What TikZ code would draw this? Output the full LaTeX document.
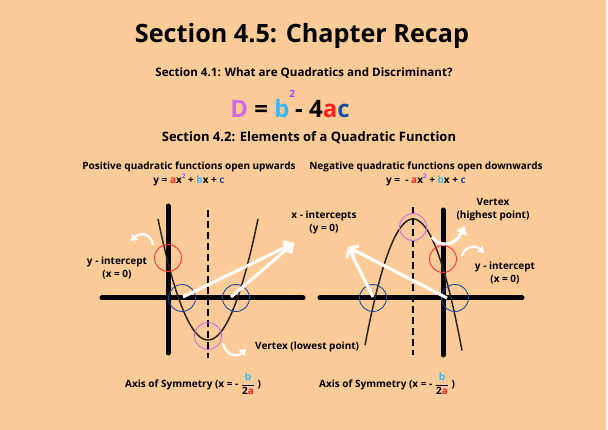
\documentclass[tikz,border=0pt]{standalone}
\usepackage{fontspec}
\usepackage{amsmath}
\setmainfont{Open Sans}
\usetikzlibrary{arrows.meta}
\definecolor{bg}{HTML}{FCCB98}
\definecolor{cred}{HTML}{FF1F1F}
\definecolor{clb}{HTML}{38B6FF}
\definecolor{cdb}{HTML}{1B4FA0}
\definecolor{cvi}{HTML}{CB6CE6}
\definecolor{csup}{HTML}{8C52FF}
\definecolor{ringred}{HTML}{FF3131}
\definecolor{ringblue}{HTML}{1E4A9A}
\definecolor{ringvi}{HTML}{CB6CE6}
\definecolor{curvec}{HTML}{2A2420}
\tikzset{
  axisline/.style={line width=5pt, line cap=round, black},
  symline/.style={line width=2.8pt, black, dash pattern=on 7pt off 4pt},
  curveline/.style={line width=1.5pt, curvec},
  ring/.style={circle, draw=#1, line width=0.9pt, minimum size=27pt, inner sep=0pt},
  whitearrow/.style={white, line width=3pt, -{Straight Barb[length=7pt,width=12pt,line width=3pt]}},
  bendarrow/.style={white, line width=2.2pt, -{Triangle[length=6pt,width=8pt]}},
  lbl/.style={font=\fontsize{10}{12}\selectfont\bfseries, align=center, inner sep=0pt},
}
\newcommand{\supsmall}[1]{\raisebox{0.9ex}{\fontsize{6.5}{7}\selectfont #1}}
\begin{document}
\begin{tikzpicture}[x=1pt,y=-1pt]
\useasboundingbox (0,0) rectangle (608,430);
\fill[bg] (0,0) rectangle (606,430);
\fill[white!85!bg] (606,0) rectangle (608,430);

% headings
\node[font=\fontsize{25.2}{30}\selectfont\bfseries, inner sep=0pt] (title) at (302,36) {Section 4.5: Chapter Recap};
\node[font=\fontsize{11.6}{14}\selectfont\bfseries, inner sep=0pt] (sub1) at (304,73) {Section 4.1: What are Quadratics and Discriminant?};
\node[font=\fontsize{24}{28}\selectfont\bfseries, inner sep=0pt] (disc) at (290,104) {\color{cvi}D \color{black}= \color{clb}b\raisebox{1.5ex}{\fontsize{10}{10}\selectfont\color{csup}2}\color{black}- 4\color{cred}a\color{cdb}c};
\node[font=\fontsize{13}{16}\selectfont\bfseries, inner sep=0pt] (sub2) at (309,138) {Section 4.2: Elements of a Quadratic Function};

\node[lbl] (pos) at (189,167) {Positive quadratic functions open upwards};
\node[lbl] (poseq) at (189,180) {y = \color{cred}a\color{black}x\supsmall{\color{csup}2} + \color{clb}b\color{black}x + \color{cdb}c};
\node[lbl] (neg) at (426,167) {Negative quadratic functions open downwards};
\node[lbl] (negeq) at (426,180) {y = \ - \color{cred}a\color{black}x\supsmall{\color{csup}2}\ + \color{clb}b\color{black}x + \color{cdb}c};

% ---------- left graph ----------
\coordinate (lxa) at (102,298); \coordinate (lxb) at (303,298);
\coordinate (lya) at (168,206); \coordinate (lyb) at (168,353);
\coordinate (lsa) at (208,210); \coordinate (lsb) at (208,358);
\draw[axisline] (lxa) -- (lxb);
\draw[axisline] (lya) -- (lyb);
\draw[symline] (lsa) -- (lsb);
\draw[curveline] plot[domain=158:258, samples=60] (\x, {340-0.0484*(\x-208)*(\x-208)});
\node[ring=ringred] (lyint) at (168,258) {};
\node[ring=ringblue] (lx1) at (182,298) {};
\node[ring=ringblue] (lx2) at (236,298) {};
\node[ring=ringvi] (lvert) at (208,336) {};
\coordinate (ltip) at (294,243);
\coordinate (lx1s) at (183,297); \coordinate (lx2s) at (231,297);
\draw[whitearrow] (lx1s) -- (ltip);
\draw[whitearrow] (lx2s) -- (ltip);
\coordinate (la1s) at (153,245); \coordinate (la1e) at (131,241);
\draw[bendarrow] (la1s) .. controls (151,233) and (140,232) .. (la1e);
\coordinate (la2s) at (223,343); \coordinate (la2e) at (246,349);
\draw[bendarrow] (la2s) .. controls (226,357) and (238,357) .. (la2e);

\node[lbl] (lyl) at (117,268) {y - intercept\\[1pt](x = 0)};
\node[lbl] (lxl) at (324,222) {x - intercepts\\[1pt](y = 0)};
\node[lbl, anchor=west] (lvl) at (255,347) {Vertex (lowest point)};

% ---------- right graph ----------
\coordinate (rxa) at (320,298); \coordinate (rxb) at (522,298);
\coordinate (rya) at (443,210); \coordinate (ryb) at (443,355);
\coordinate (rsa) at (413,207); \coordinate (rsb) at (413,355);
\draw[axisline] (rxa) -- (rxb);
\draw[axisline] (rya) -- (ryb);
\draw[symline] (rsa) -- (rsb);
\draw[curveline] plot[domain=365:462, samples=60] (\x, {219+0.0548*(\x-413)*(\x-413)});
\node[ring=ringred] (ryint) at (443,259) {};
\node[ring=ringblue] (rx1) at (373,298) {};
\node[ring=ringblue] (rx2) at (455,298) {};
\node[ring=ringvi] (rvert) at (413,227) {};
\coordinate (rtip) at (348,247);
\coordinate (rx1s) at (373,297); \coordinate (rx2s) at (447,298);
\draw[whitearrow] (rx1s) -- (rtip);
\draw[whitearrow] (rx2s) -- (rtip);
\coordinate (ra1s) at (432,237); \coordinate (ra1e) at (465,226);
\draw[bendarrow, -{Triangle[length=8pt,width=11pt]}, line width=3pt] (ra1s) .. controls (440,248) and (455,246) .. (ra1e);
\coordinate (ra2s) at (462,256); \coordinate (ra2e) at (484,253);
\draw[bendarrow] (ra2s) .. controls (464,246) and (476,245) .. (ra2e);

\node[lbl] (rvl) at (493,210) {Vertex\\[1pt](highest point)};
\node[lbl] (ryl) at (505,273) {y - intercept\\[1pt](x = 0)};

% ---------- axis of symmetry ----------
\node[lbl, anchor=west] (laos) at (125,384) {Axis of Symmetry (x = - $\dfrac{\text{\color{clb}b}}{\text{2\color{cred}a}}$ )};
\node[lbl, anchor=west] (raos) at (319,384) {Axis of Symmetry (x = - $\dfrac{\text{\color{clb}b}}{\text{2\color{cred}a}}$ )};
\end{tikzpicture}
\end{document}
